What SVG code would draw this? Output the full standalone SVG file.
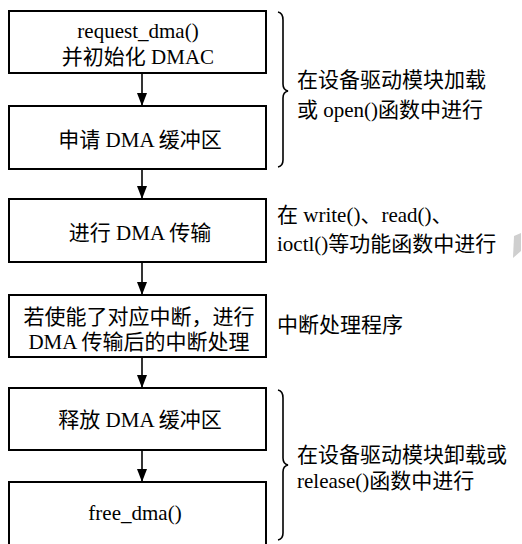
<svg xmlns="http://www.w3.org/2000/svg" width="522" height="544" viewBox="0 0 522 544">
<defs>
<style>
.box{fill:#fff;stroke:#000;stroke-width:2}
.t{font-family:"Liberation Serif","Noto Sans CJK SC",serif;font-size:21px;fill:#000}
.c{text-anchor:middle}
.n{font-family:"Liberation Serif","Noto Sans CJK SC",serif;font-size:21px;fill:#000}
.br{fill:none;stroke:#000;stroke-width:1.6}
.ar{stroke:#000;stroke-width:1.6;fill:none}
</style>
</defs>
<rect width="522" height="544" fill="#fff"/>
<g id="connectors">
<line class="ar" x1="142" y1="73" x2="142" y2="106"/>
<path d="M137,93 L147,93 L142,106 Z"/>
<line class="ar" x1="142" y1="169" x2="142" y2="199"/>
<path d="M137,186 L147,186 L142,199 Z"/>
<line class="ar" x1="142" y1="262" x2="142" y2="295"/>
<path d="M137,282 L147,282 L142,295 Z"/>
<line class="ar" x1="142" y1="357" x2="142" y2="388"/>
<path d="M137,375 L147,375 L142,388 Z"/>
<line class="ar" x1="142" y1="450" x2="142" y2="482"/>
<path d="M137,469 L147,469 L142,482 Z"/>
</g>
<g id="n1"><rect class="box" x="9" y="11" width="257" height="62"/>
<text class="t c" x="138" y="38">request_dma()</text>
<text class="t c" x="138" y="64">并初始化 DMAC</text></g>
<g id="n2"><rect class="box" x="9" y="106" width="257" height="63"/>
<text class="t c" x="140" y="147">申请 DMA 缓冲区</text></g>
<g id="n3"><rect class="box" x="9" y="199" width="257" height="63"/>
<text class="t c" x="140" y="240">进行 DMA 传输</text></g>
<g id="n4"><rect class="box" x="9" y="295" width="257" height="62"/>
<text class="t c" x="139" y="324">若使能了对应中断，进行</text>
<text class="t c" x="139" y="349">DMA 传输后的中断处理</text></g>
<g id="n5"><rect class="box" x="9" y="388" width="257" height="62"/>
<text class="t c" x="140" y="427">释放 DMA 缓冲区</text></g>
<g id="n6"><rect class="box" x="9" y="482" width="257" height="70"/>
<text class="t c" x="135" y="520">free_dma()</text></g>
<g id="a1">
<path class="br" d="M278,12 Q283,13 283,20 L283,84 Q283,90 288,91 Q283,92 283,98 L283,160 Q283,166 278,167"/>
<text class="n" x="297" y="87">在设备驱动模块加载</text>
<text class="n" x="297" y="117">或 open()函数中进行</text>
</g>
<g id="a2">
<text class="n" x="277" y="222">在 write()、read()、</text>
<text class="n" x="277" y="251">ioctl()等功能函数中进行</text>
<path d="M514,236 L521,233 L521,251 L513,258 Z" fill="#cfcfcf"/>
</g>
<g id="a3">
<text class="n" x="277" y="332">中断处理程序</text>
</g>
<g id="a4">
<path class="br" d="M278,390 Q283,391 283,398 L283,458 Q283,464 288,465 Q283,466 283,472 L283,533 Q283,539 278,540"/>
<text class="n" x="297" y="462">在设备驱动模块卸载或</text>
<text class="n" x="297" y="488">release()函数中进行</text>
</g>
</svg>
